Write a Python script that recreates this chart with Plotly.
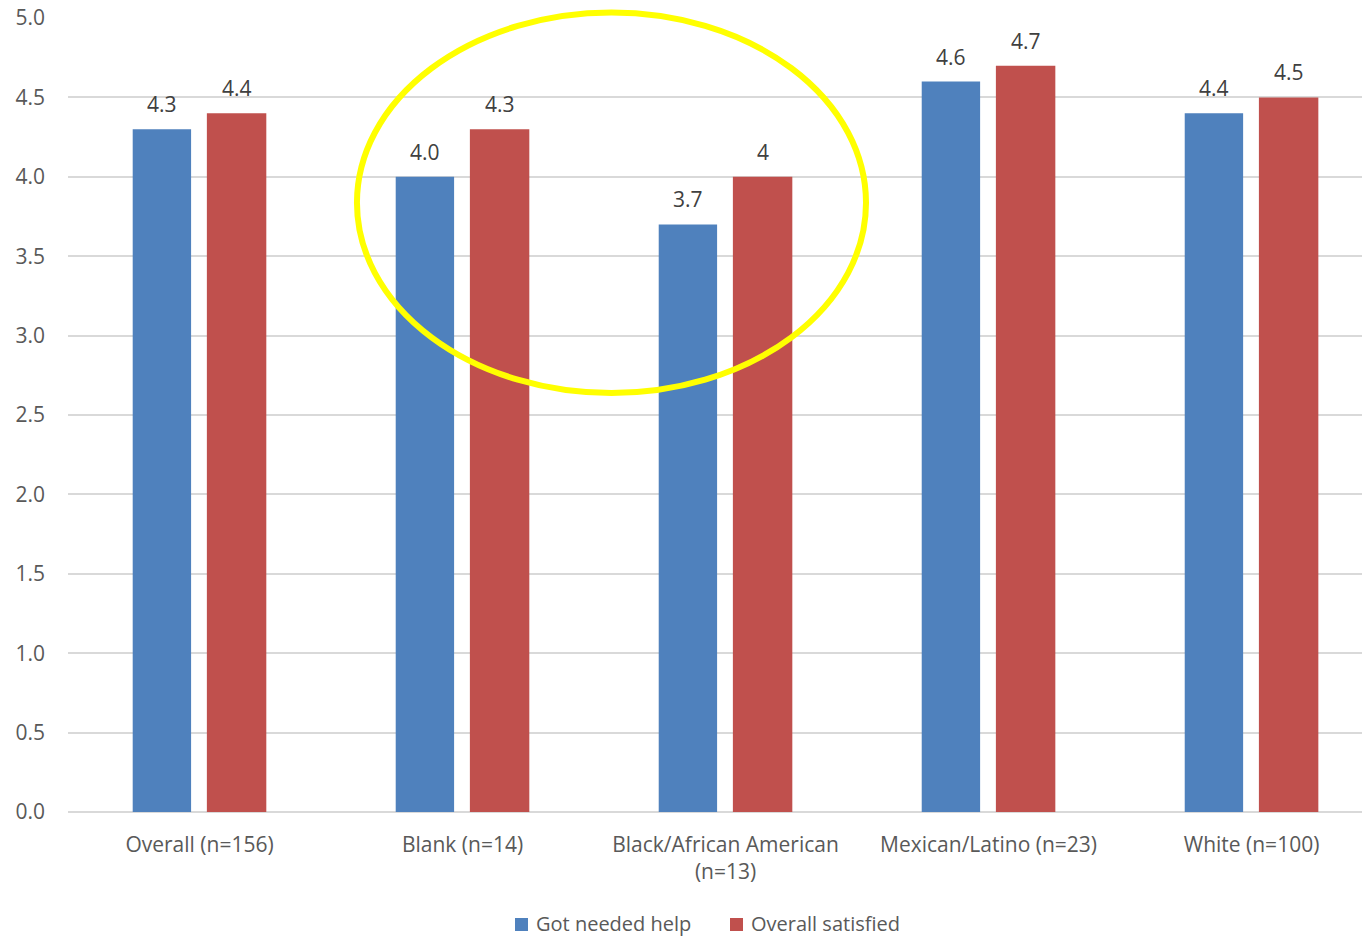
import plotly.graph_objects as go

categories = ["Overall (n=156)", "Blank (n=14)", "Black/African American<br>(n=13)",
              "Mexican/Latino (n=23)", "White (n=100)"]
got_help = [4.3, 4.0, 3.7, 4.6, 4.4]
got_help_labels = ["4.3", "4.0", "3.7", "4.6", "4.4"]
satisfied = [4.4, 4.3, 4.0, 4.7, 4.5]
satisfied_labels = ["4.4", "4.3", "4", "4.7", "4.5"]
y_ticks = [0.0, 0.5, 1.0, 1.5, 2.0, 2.5, 3.0, 3.5, 4.0, 4.5, 5.0]
series_names = ["Got needed help", "Overall satisfied"]

BLUE = "#4F81BD"
RED = "#C0504D"
FONT = "Open Sans"
TICK_COLOR = "#595959"
LABEL_COLOR = "#404040"
FS = 21

x_idx = list(range(len(categories)))

# bar geometry within each category slot (category units)
BLUE_OFF, BLUE_W = -0.254, 0.222
RED_OFF, RED_W = 0.028, 0.226

fig = go.Figure()
fig.add_trace(go.Bar(
    x=x_idx, y=got_help, name=series_names[0],
    marker=dict(color=BLUE, line=dict(width=0)),
    width=BLUE_W, offset=BLUE_OFF, showlegend=False,
))
fig.add_trace(go.Bar(
    x=x_idx, y=satisfied, name=series_names[1],
    marker=dict(color=RED, line=dict(width=0)),
    width=RED_W, offset=RED_OFF, showlegend=False,
))

# value labels above each bar
for vals, labels, off, w in [(got_help, got_help_labels, BLUE_OFF, BLUE_W),
                             (satisfied, satisfied_labels, RED_OFF, RED_W)]:
    for i, (v, t) in enumerate(zip(vals, labels)):
        fig.add_annotation(
            x=i + off + w / 2, y=v, xref="x", yref="y", text=t,
            showarrow=False, yanchor="bottom", yshift=9,
            font=dict(family=FONT, size=FS, color=LABEL_COLOR),
        )

# Highlight ring around the Blank and Black/African American groups
fig.add_shape(
    type="circle", xref="paper", yref="paper",
    x0=0.2233, x1=0.6167, y0=0.5277, y1=1.0069,
    line=dict(color="#FFFF00", width=6), layer="above",
)

# legend: colour swatches with series names, centred under the plot
legend_items = [(series_names[0], BLUE, 515), (series_names[1], RED, 730)]
for name, color, px in legend_items:
    x0 = (px - 68) / 1294
    x1 = (px + 13 - 68) / 1294
    fig.add_shape(
        type="rect", xref="paper", yref="paper",
        x0=x0, x1=x1, y0=(812 - 931) / 794, y1=(812 - 918) / 794,
        fillcolor=color, line=dict(width=0),
    )
    fig.add_annotation(
        x=(px + 19 - 68) / 1294, y=(812 - 923) / 794, xref="paper", yref="paper",
        text=name, showarrow=False, xanchor="left", yanchor="middle",
        font=dict(family=FONT, size=20, color=TICK_COLOR),
    )

fig.update_layout(
    width=1362, height=938,
    margin=dict(l=68, r=0, t=18, b=126),
    plot_bgcolor="white", paper_bgcolor="white",
    font=dict(family=FONT, size=FS, color=TICK_COLOR),
    showlegend=False,
    xaxis=dict(
        range=[-0.5, 4.42], tickmode="array", tickvals=x_idx, ticktext=categories,
        showgrid=False, zeroline=False, showline=False, ticks="",
        ticklabelstandoff=18,
        tickfont=dict(family=FONT, size=FS, color=TICK_COLOR),
    ),
    yaxis=dict(
        range=[0, 5.0], tickmode="array", tickvals=y_ticks,
        ticktext=[f"{v:.1f}" for v in y_ticks],
        showgrid=True, gridcolor="#D9D9D9", gridwidth=1.5,
        zeroline=True, zerolinecolor="#D9D9D9", zerolinewidth=1.5,
        showline=False, ticks="", ticklabelstandoff=22,
        tickfont=dict(family=FONT, size=FS, color=TICK_COLOR),
    ),
)

fig.write_html("out.html")
